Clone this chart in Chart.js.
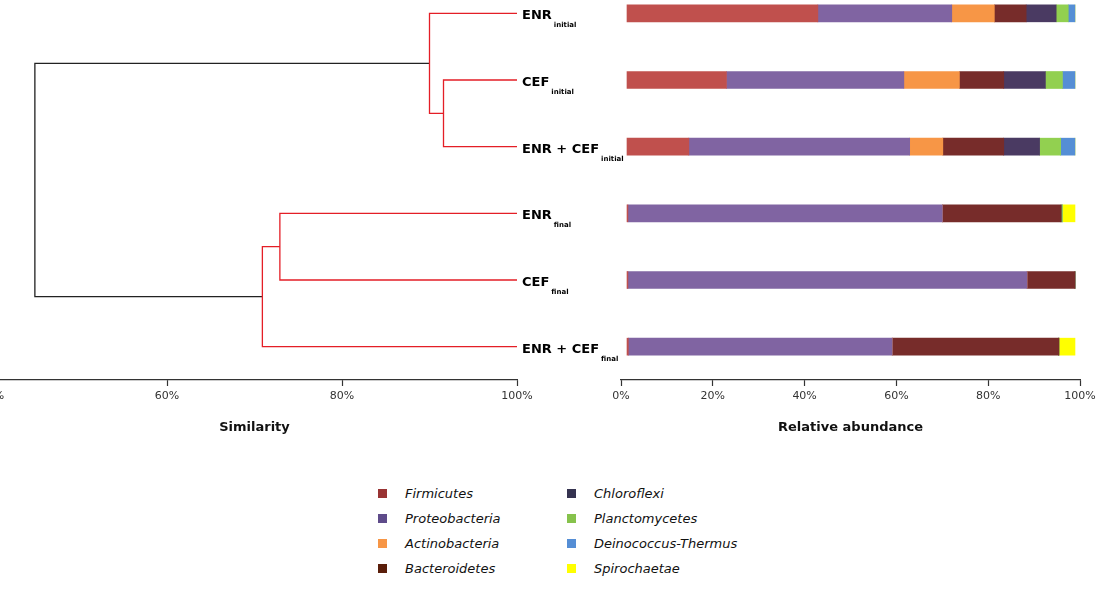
<!DOCTYPE html>
<html lang="en">
<head>
    <meta charset="UTF-8">
    <title>Dendrogram and relative abundance</title>
    <script src="https://cdn.jsdelivr.net/npm/chart.js@4.4.0/dist/chart.umd.min.js"></script>
    <style>
        body { margin: 0; background: #fff; font-family: "DejaVu Sans", sans-serif; }
        #page { position: relative; width: 1096px; height: 598px; overflow: hidden; background: #fff; }
        #dendro { position: absolute; left: -40px; top: -20px; }
        #bars { position: absolute; left: 590px; top: -20px; }
        #legend { position: absolute; left: 378px; top: 481px; display: grid; grid-template-columns: 189px 200px; grid-auto-flow: column; grid-template-rows: repeat(4, 25px); }
        .item { display: flex; align-items: center; font-style: italic; font-size: 13px; color: #111; }
        .box { width: 9px; height: 9px; margin-right: 18px; flex: none; }
    </style>
</head>
<body>
<div id="page">
    <canvas id="dendro" width="680" height="470"></canvas>
    <canvas id="bars" width="530" height="470"></canvas>
    <div id="legend"></div>
</div>

<script>
    // Samples (same order for the dendrogram leaves and the bars)
    const sampleNames = ['ENR', 'CEF', 'ENR + CEF', 'ENR', 'CEF', 'ENR + CEF'];
    const sampleSubs = ['initial', 'initial', 'initial', 'final', 'final', 'final'];

    // Dendrogram merges: node 6 = merge 0, node 7 = merge 1, ...
    const mergeA = [1, 0, 3, 8, 7];
    const mergeB = [2, 6, 4, 5, 9];
    const mergeSim = [91.6, 90.0, 72.9, 70.9, 44.9];

    // Relative abundance (%) per phylum, one value per sample
    const phyla = ['Firmicutes', 'Proteobacteria', 'Actinobacteria', 'Bacteroidetes',
                   'Chloroflexi', 'Planctomycetes', 'Deinococcus-Thermus', 'Spirochaetae'];
    const firmicutes     = [42.6, 22.2, 13.8, 0.2, 0.2, 0.3];
    const proteobacteria = [29.9, 39.6, 49.3, 70.2, 89.1, 58.9];
    const actinobacteria = [9.5, 12.4, 7.4, 0, 0, 0];
    const bacteroidetes  = [7.1, 9.9, 13.6, 26.5, 10.7, 37.2];
    const chloroflexi    = [6.7, 9.3, 8.0, 0, 0, 0];
    const planctomycetes = [2.7, 3.8, 4.7, 0.3, 0, 0];
    const deinococcus    = [1.5, 2.8, 3.2, 0, 0, 0];
    const spirochaetae   = [0, 0, 0, 2.8, 0, 3.6];
    const abundance = [firmicutes, proteobacteria, actinobacteria, bacteroidetes,
                       chloroflexi, planctomycetes, deinococcus, spirochaetae];

    const similarityTicks = [40, 60, 80, 100];
    const abundanceTicks = [0, 20, 40, 60, 80, 100];

    // Colours
    const barColors = ['#c0504d', '#8064a2', '#f79646', '#772c2a', '#4a3a62', '#92d050', '#558ed5', '#ffff00'];
    const legendColors = ['#993333', '#5e4b8a', '#f79646', '#5a1e0a', '#353350', '#86c24c', '#558ed5', '#ffff00'];
    const mergeColors = ['#e41e26', '#e41e26', '#e41e26', '#e41e26', '#222222'];

    const axisColor = '#333';
    const tickFont = { family: 'DejaVu Sans', size: 11 };
    const titleFont = { family: 'DejaVu Sans', size: 13, weight: 'bold' };

    function xAxis(min, max, title) {
        return {
            type: 'linear', position: 'bottom', min: min, max: max,
            afterBuildTicks: s => { s.ticks = (title === 'Similarity' ? similarityTicks : abundanceTicks).map(v => ({ value: v })); },
            afterFit: s => { s.height = 70; },
            grid: { drawOnChartArea: false, drawTicks: true, tickLength: 6, tickColor: axisColor, tickWidth: 1.2 },
            border: { display: true, color: axisColor, width: 1.2 },
            ticks: { font: tickFont, color: '#333', padding: 4, maxRotation: 0, autoSkip: false, callback: v => v + '%' },
            title: { display: true, text: title, font: titleFont, color: '#111', padding: { top: 0, bottom: 15 } }
        };
    }

    // Build dendrogram line segments from the merges
    function dendrogramDatasets() {
        const nodeX = sampleNames.map(() => 100);
        const nodeY = sampleNames.map((_, i) => i);
        const sets = [];
        mergeSim.forEach((s, m) => {
            const a = mergeA[m], b = mergeB[m];
            sets.push({
                data: [
                    { x: nodeX[a], y: nodeY[a] }, { x: s, y: nodeY[a] },
                    { x: s, y: nodeY[b] }, { x: nodeX[b], y: nodeY[b] }
                ],
                showLine: true, borderColor: mergeColors[m], borderWidth: 1.3,
                pointRadius: 0, clip: false, tension: 0
            });
            nodeX.push(s);
            nodeY.push((nodeY[a] + nodeY[b]) / 2);
        });
        return sets;
    }

    // Leaf labels with subscripts
    const leafLabels = {
        id: 'leafLabels',
        afterDraw(chart) {
            const ctx = chart.ctx;
            const x0 = chart.scales.x.getPixelForValue(100) + 5;
            ctx.save();
            ctx.fillStyle = '#000';
            ctx.textBaseline = 'alphabetic';
            ctx.textAlign = 'left';
            sampleNames.forEach((name, i) => {
                const y = chart.scales.y.getPixelForValue(i);
                ctx.font = 'bold 13px "DejaVu Sans"';
                ctx.fillText(name, x0, y + 6);
                const w = ctx.measureText(name).width;
                ctx.font = 'bold 7px "DejaVu Sans"';
                ctx.fillText(sampleSubs[i], x0 + w + 2, y + 14);
            });
            ctx.restore();
        }
    };

    function drawDendrogram() {
        new Chart(document.getElementById('dendro'), {
            type: 'scatter',
            data: { datasets: dendrogramDatasets() },
            options: {
                responsive: false, animation: false,
                layout: { padding: { left: 32, right: 123, top: 0, bottom: 0 } },
                plugins: { legend: { display: false }, tooltip: { enabled: false } },
                scales: {
                    x: xAxis(40, 100, 'Similarity'),
                    y: { type: 'linear', display: false, min: -0.5, max: 5.5, reverse: true }
                }
            },
            plugins: [leafLabels]
        });
    }

    function drawBars() {
        const labels = sampleNames.map((n, i) => n + ' ' + sampleSubs[i]);
        const datasets = phyla.map((p, k) => ({
            label: p, data: abundance[k], backgroundColor: barColors[k],
            borderWidth: 0, barThickness: 17, xAxisID: 'xb'
        }));
        new Chart(document.getElementById('bars'), {
            type: 'bar',
            data: { labels: labels, datasets: datasets },
            options: {
                indexAxis: 'y', responsive: false, animation: false,
                layout: { padding: { left: 31, right: 40, top: 0, bottom: 0 } },
                plugins: { legend: { display: false }, tooltip: { enabled: false } },
                scales: {
                    x: xAxis(0, 100, 'Relative abundance'),
                    xb: { type: 'linear', display: false, stacked: true, min: -1.34, max: 101.12 },
                    y: { display: false, stacked: true }
                }
            }
        });
    }

    function drawLegend() {
        const legend = document.getElementById('legend');
        phyla.forEach((p, k) => {
            const item = document.createElement('div');
            item.className = 'item';
            const box = document.createElement('span');
            box.className = 'box';
            box.style.background = legendColors[k];
            item.appendChild(box);
            item.appendChild(document.createTextNode(p));
            legend.appendChild(item);
        });
    }

    window.onload = function() {
        drawDendrogram();
        drawBars();
        drawLegend();
    };
</script>
</body>
</html>
